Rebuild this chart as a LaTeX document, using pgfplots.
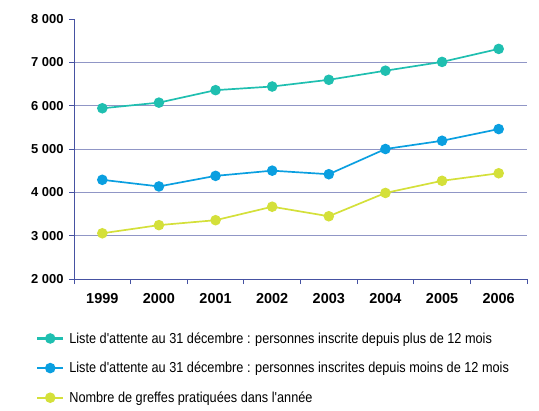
\documentclass[border=0pt]{standalone}
\usepackage{pgfplots}
\pgfplotsset{compat=1.18}
\usepackage{fontspec}
\setmainfont{Liberation Sans}
\newfontfamily\narrowfont[FakeStretch=0.88]{Liberation Sans}
\definecolor{cteal}{HTML}{1FBFB0}
\definecolor{cblue}{HTML}{0A9FE0}
\definecolor{cyel}{HTML}{D4E03A}
\definecolor{cgrid}{HTML}{9096C6}
\definecolor{caxis}{HTML}{4652A2}
\begin{document}
\begin{tikzpicture}
\path[use as bounding box] (0,0) rectangle (539bp,411bp);
\begin{axis}[
  at={(74bp,132bp)}, anchor=south west,
  scale only axis, width=453bp, height=260bp,
  xmin=-0.5, xmax=7.5, ymin=2000, ymax=8000,
  axis x line*=bottom, axis y line*=left,
  axis line style={draw=caxis, line width=0.8pt, -},
  xtick={0,...,7},
  xticklabels={1999,2000,2001,2002,2003,2004,2005,2006},
  minor xtick={-0.5,0.5,...,7.5},
  major x tick style={draw=none},
  minor x tick style={draw=caxis, line width=0.8pt},
  minor tick length=5bp,
  major tick length=5bp,
  tick align=outside,
  ytick={2000,3000,...,7000},
  extra y ticks={8000},
  extra y tick style={grid=none},
  ymajorgrids,
  grid style={draw=cgrid, line width=1pt},
  y tick style={draw=caxis, line width=0.8pt},
  /pgf/number format/assume math mode=true,
  /pgf/number format/1000 sep={\ },
  yticklabel style={font=\fontsize{13}{15}\selectfont\bfseries, xshift=-2bp},
  xticklabel style={font=\fontsize{14.5}{16}\selectfont\bfseries, yshift=-6bp},
  every axis plot/.append style={line width=1.7pt, mark=*, mark size=4.4bp},
  legend style={at={(axis description cs:-0.084,-0.197)}, anchor=north west,
    draw=none, fill=none, inner sep=0pt, row sep=13.5bp,
    font=\narrowfont\fontsize{14.5}{16}\selectfont,
    nodes={inner xsep=5bp}},
  legend cell align=left,
  legend image code/.code={%
    \draw[line width=2.2pt] (0bp,0bp) -- (26bp,0bp);
    \fill (13bp,0bp) circle[radius=4.4bp];},
]
\addplot[color=cteal] coordinates {(0,5940) (1,6070) (2,6358) (3,6442) (4,6597) (5,6807) (6,7010) (7,7310)};
\addlegendentry{Liste d'attente au 31 décembre : personnes inscrite depuis plus de 12 mois}
\addplot[color=cblue] coordinates {(0,4289) (1,4136) (2,4380) (3,4500) (4,4418) (5,5000) (6,5190) (7,5460)};
\addlegendentry{Liste d'attente au 31 décembre : personnes inscrites depuis moins de 12 mois}
\addplot[color=cyel] coordinates {(0,3055) (1,3243) (2,3357) (3,3668) (4,3448) (5,3986) (6,4266) (7,4440)};
\addlegendentry{Nombre de greffes pratiquées dans l'année}
\end{axis}
\end{tikzpicture}
\end{document}
